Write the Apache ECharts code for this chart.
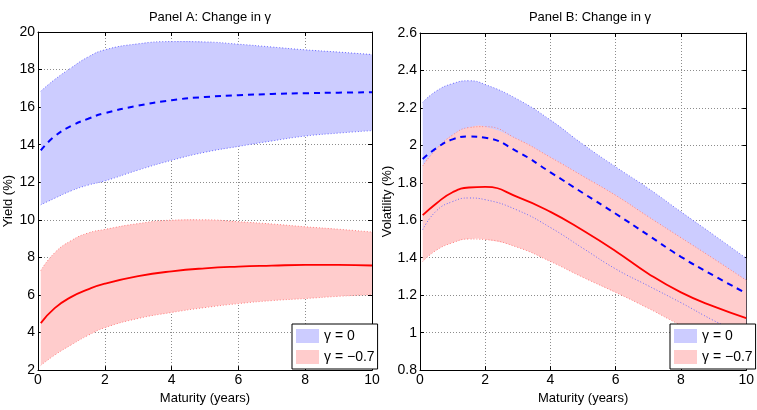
<!DOCTYPE html>
<html>
<head>
<meta charset="utf-8">
<script src="https://cdn.jsdelivr.net/npm/echarts@6/dist/echarts.min.js"></script>
<style>
  html, body { margin: 0; padding: 0; background: #fff; }
  #chart { width: 757px; height: 410px; }
</style>
</head>
<body>
<div id="chart"></div>
<script>
// Maturities (years) shared by every curve
const maturity = [0.083, 0.5, 1, 1.5, 2, 3, 4, 5, 6, 7, 8, 9, 10];

// Panel A: yield (%) — gamma = 0
const yieldG0Upper = [16.85, 17.47, 18.1, 18.67, 19.05, 19.37, 19.49, 19.47, 19.35, 19.2, 19.05, 18.93, 18.8];
const yieldG0Mean  = [13.7, 14.45, 15.0, 15.38, 15.68, 16.08, 16.37, 16.54, 16.63, 16.7, 16.74, 16.77, 16.79];
const yieldG0Lower = [10.8, 11.15, 11.55, 11.85, 12.07, 12.65, 13.17, 13.6, 13.91, 14.2, 14.46, 14.62, 14.75];
// Panel A: yield (%) — gamma = -0.7
const yieldG07Upper = [7.3, 8.25, 8.9, 9.3, 9.49, 9.8, 9.98, 10.0, 9.9, 9.78, 9.63, 9.5, 9.35];
const yieldG07Mean  = [4.5, 5.3, 5.9, 6.3, 6.6, 7.0, 7.26, 7.42, 7.51, 7.56, 7.6, 7.6, 7.57];
const yieldG07Lower = [2.25, 2.8, 3.35, 3.85, 4.26, 4.75, 5.07, 5.33, 5.54, 5.7, 5.81, 5.93, 6.02];

// Panel B: volatility (%) — gamma = 0
const volG0Upper = [2.23, 2.29, 2.33, 2.345, 2.325, 2.245, 2.135, 2.005, 1.885, 1.77, 1.645, 1.522, 1.397];
const volG0Mean  = [1.927, 1.985, 2.032, 2.047, 2.041, 1.965, 1.856, 1.745, 1.635, 1.52, 1.405, 1.305, 1.21];
const volG0Lower = [1.55, 1.65, 1.70, 1.719, 1.71, 1.653, 1.561, 1.45, 1.34, 1.25, 1.16, 1.065, 0.98];
// Panel B: volatility (%) — gamma = -0.7
const volG07Upper = [1.89, 1.98, 2.055, 2.095, 2.1, 2.032, 1.936, 1.835, 1.733, 1.619, 1.507, 1.395, 1.28];
const volG07Mean  = [1.627, 1.69, 1.75, 1.775, 1.778, 1.724, 1.645, 1.545, 1.435, 1.315, 1.215, 1.14, 1.078];
const volG07Lower = [1.38, 1.44, 1.48, 1.50, 1.497, 1.455, 1.38, 1.295, 1.215, 1.13, 1.04, 0.965, 0.895];

// Labels
const panelTitles = ['Panel A: Change in γ', 'Panel B: Change in γ'];
const xAxisName = 'Maturity (years)';
const yAxisNames = ['Yield (%)', 'Volatility (%)'];
const legendNames = ['γ = 0', 'γ = −0.7'];

const FONT = '"Liberation Sans Narrow", "Liberation Sans", Arial, sans-serif';
const BLUE_FILL = '#ccccff', RED_FILL = '#ffcccc';
const BLUE_EDGE = '#6a6aff', RED_EDGE = '#ff8080';
const SMOOTH = 0.5;

const pairs = (ys) => maturity.map((x, i) => [x, ys[i]]);

// Control points in the same manner as ECharts' smoothed line segments
function controlPoints(pts, s) {
  const n = pts.length, outC = [], inC = [];
  for (let i = 0; i < n; i++) {
    const p = pts[i];
    if (i === 0 || i === n - 1) { outC.push(p); inC.push(p); continue; }
    const prev = pts[i - 1], next = pts[i + 1];
    const vx = next[0] - prev[0], vy = next[1] - prev[1];
    const d0 = Math.hypot(p[0] - prev[0], p[1] - prev[1]);
    const d1 = Math.hypot(next[0] - p[0], next[1] - p[1]);
    const r = d1 / (d0 + d1);
    outC.push([p[0] + vx * s * r, p[1] + vy * s * r]);
    inC.push([p[0] - vx * s * (1 - r), p[1] - vy * s * (1 - r)]);
  }
  return { outC, inC };
}

// Filled band between the lower and upper curve of one scenario
function renderBand(fill) {
  return function (params, api) {
    if (params.dataIndexInside !== 0) return null;
    const n = params.dataInsideLength;
    const lo = [], hi = [];
    for (let k = 0; k < n; k++) {
      const x = api.value(0, k);
      lo.push(api.coord([x, api.value(1, k)]));
      hi.push(api.coord([x, api.value(2, k)]));
    }
    const ch = controlPoints(hi, SMOOTH), cl = controlPoints(lo, SMOOTH);
    let d = 'M' + hi[0][0] + ' ' + hi[0][1];
    for (let i = 0; i < n - 1; i++) {
      d += ' C' + ch.outC[i][0] + ' ' + ch.outC[i][1] + ' ' + ch.inC[i + 1][0] + ' ' + ch.inC[i + 1][1] +
           ' ' + hi[i + 1][0] + ' ' + hi[i + 1][1];
    }
    d += ' L' + lo[n - 1][0] + ' ' + lo[n - 1][1];
    for (let i = n - 1; i > 0; i--) {
      d += ' C' + cl.inC[i][0] + ' ' + cl.inC[i][1] + ' ' + cl.outC[i - 1][0] + ' ' + cl.outC[i - 1][1] +
           ' ' + lo[i - 1][0] + ' ' + lo[i - 1][1];
    }
    d += ' Z';
    return { type: 'path', shape: { pathData: d }, style: { fill: fill, stroke: null } };
  };
}

function bandSeries(name, lower, upper, fill, axisIdx) {
  return {
    name: name, type: 'custom', coordinateSystem: 'cartesian2d',
    xAxisIndex: axisIdx, yAxisIndex: axisIdx, silent: true,
    color: fill, itemStyle: { color: fill },
    data: maturity.map((x, i) => [x, lower[i], upper[i]]),
    encode: { x: 0, y: [1, 2] },
    renderItem: renderBand(fill), z: 1
  };
}

function curve(vals, color, type, width, axisIdx) {
  return {
    type: 'line', xAxisIndex: axisIdx, yAxisIndex: axisIdx,
    data: pairs(vals), smooth: SMOOTH, symbol: 'none', silent: true,
    lineStyle: { color: color, type: type, width: width }, z: 3
  };
}

const gridLine = { show: true, lineStyle: { color: '#8c8c8c', type: [1, 2], width: 1 } };
const axisLine = { show: true, onZero: false, lineStyle: { color: '#000', width: 1 } };
const tick = { show: true, inside: true, length: 4, lineStyle: { color: '#000' } };
const tickLabel = { color: '#000', fontFamily: FONT, fontSize: 14 };
const nameText = { color: '#000', fontFamily: FONT, fontSize: 13 };

const grids = [
  { left: 38, right: 385, top: 32, bottom: 36 },
  { left: 420, right: 7, top: 33, bottom: 37 }
];
const yRanges = [{ min: 2, max: 20, interval: 2 }, { min: 0.8, max: 2.6, interval: 0.2 }];

const xAxes = [], yAxes = [];
[0, 1].forEach((g) => {
  xAxes.push({
    type: 'value', gridIndex: g, min: 0, max: 10, interval: 2, position: 'bottom',
    name: xAxisName, nameLocation: 'middle', nameGap: 20, nameTextStyle: nameText,
    axisLine, axisTick: tick, axisLabel: Object.assign({ margin: 3 }, tickLabel), splitLine: gridLine
  });
  yAxes.push({
    type: 'value', gridIndex: g, min: yRanges[g].min, max: yRanges[g].max, interval: yRanges[g].interval,
    position: 'left',
    name: yAxisNames[g], nameLocation: 'middle', nameGap: g === 0 ? 23 : 26, nameTextStyle: nameText,
    axisLine, axisTick: tick, axisLabel: Object.assign({ margin: 3 }, tickLabel), splitLine: gridLine
  });
});
// Box edges: top and right axes with inward ticks, no labels
[0, 1].forEach((g) => {
  xAxes.push({
    type: 'value', gridIndex: g, min: 0, max: 10, interval: 2, position: 'top',
    axisLine, axisTick: tick, axisLabel: { show: false }, splitLine: { show: false }
  });
  yAxes.push({
    type: 'value', gridIndex: g, min: yRanges[g].min, max: yRanges[g].max, interval: yRanges[g].interval,
    position: 'right',
    axisLine, axisTick: tick, axisLabel: { show: false }, splitLine: { show: false }
  });
});

const series = [
  // Panel A
  bandSeries(legendNames[0], yieldG0Lower, yieldG0Upper, BLUE_FILL, 0),
  bandSeries(legendNames[1], yieldG07Lower, yieldG07Upper, RED_FILL, 0),
  curve(yieldG0Upper, BLUE_EDGE, [1, 2], 1, 0),
  curve(yieldG0Lower, BLUE_EDGE, [1, 2], 1, 0),
  curve(yieldG07Upper, RED_EDGE, [1, 2], 1, 0),
  curve(yieldG07Lower, RED_EDGE, [1, 2], 1, 0),
  curve(yieldG0Mean, '#0000ff', [6, 5], 2, 0),
  curve(yieldG07Mean, '#ff0000', 'solid', 1.8, 0),
  // Panel B
  bandSeries(legendNames[0], volG0Lower, volG0Upper, BLUE_FILL, 1),
  bandSeries(legendNames[1], volG07Lower, volG07Upper, RED_FILL, 1),
  curve(volG0Upper, BLUE_EDGE, [1, 2], 1, 1),
  curve(volG0Lower, BLUE_EDGE, [1, 2], 1, 1),
  curve(volG07Upper, RED_EDGE, [1, 2], 1, 1),
  curve(volG07Lower, RED_EDGE, [1, 2], 1, 1),
  curve(volG0Mean, '#0000ff', [6, 5], 2, 1),
  curve(volG07Mean, '#ff0000', 'solid', 1.8, 1)
];

const legendData = [
  { name: legendNames[0], icon: 'rect', itemStyle: { color: BLUE_FILL, borderWidth: 0 } },
  { name: legendNames[1], icon: 'rect', itemStyle: { color: RED_FILL, borderWidth: 0 } }
];
const legendBase = {
  orient: 'vertical', data: legendData, selectedMode: false,
  itemWidth: 23, itemHeight: 14, itemGap: 7, itemTextGap: 3,
  padding: [5, 3, 5, 4], backgroundColor: '#fff', borderColor: '#000', borderWidth: 1,
  textStyle: { color: '#000', fontFamily: FONT, fontSize: 14 }, z: 10
};

const option = {
  animation: false,
  backgroundColor: '#fff',
  title: [
    { text: panelTitles[0], left: 205, top: 6, textAlign: 'center',
      textStyle: { color: '#000', fontFamily: FONT, fontSize: 13, fontWeight: 'normal' } },
    { text: panelTitles[1], left: 585, top: 6, textAlign: 'center',
      textStyle: { color: '#000', fontFamily: FONT, fontSize: 13, fontWeight: 'normal' } }
  ],
  legend: [
    Object.assign({ left: 292, top: 324 }, legendBase),
    Object.assign({ left: 670, top: 324 }, legendBase)
  ],
  grid: grids,
  xAxis: xAxes,
  yAxis: yAxes,
  series: series
};

const chart = echarts.init(document.getElementById('chart'), null, { renderer: 'canvas' });
chart.setOption(option);
</script>
</body>
</html>
